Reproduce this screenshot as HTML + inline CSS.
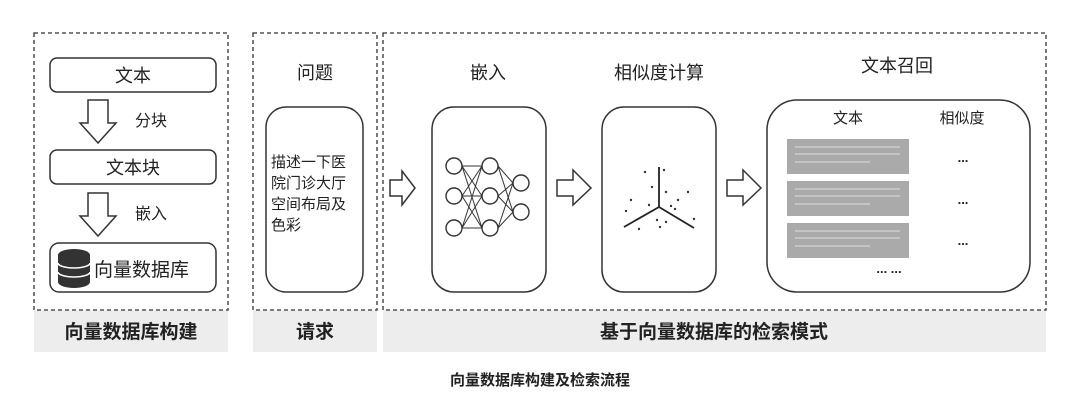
<!DOCTYPE html>
<html><head><meta charset="utf-8"><style>
body{margin:0;background:#fff;}
svg text{font-family:"Liberation Sans","Noto Sans CJK SC",sans-serif;fill:#222;}
</style></head><body>
<svg width="1080" height="400" viewBox="0 0 1080 400" xmlns="http://www.w3.org/2000/svg">
<rect width="1080" height="400" fill="#fff"/>
<rect x="34" y="310" width="194" height="42" fill="#ededed"/>
<rect x="253" y="310" width="124" height="42" fill="#ededed"/>
<rect x="383" y="310" width="663" height="42" fill="#ededed"/>
<g fill="none" stroke="#333" stroke-width="1.3" stroke-dasharray="4,3">
<rect x="34" y="33" width="194" height="277"/>
<rect x="253" y="33" width="124" height="277"/>
<rect x="383" y="33" width="663" height="277"/>
</g>
<g font-weight="bold" font-size="19" text-anchor="middle">
<text x="131" y="338">向量数据库构建</text>
<text x="315" y="338">请求</text>
<text x="714" y="338">基于向量数据库的检索模式</text>
</g>
<g fill="none" stroke="#333" stroke-width="1.5">
<rect x="50" y="58" width="166" height="34" rx="7"/>
<rect x="50" y="150" width="166" height="34" rx="7"/>
<rect x="50" y="243" width="166" height="49" rx="9"/>
<path d="M88,100 H108 V123 H116 L98,143 L80,123 H88 Z"/>
<path d="M88,193 H108 V216 H116 L98,236 L80,216 H88 Z"/>
</g>
<g font-size="18" text-anchor="middle">
<text x="133" y="82">文本</text>
<text x="133" y="174">文本块</text>
</g>
<g font-size="16"><text x="135" y="126">分块</text><text x="135" y="219">嵌入</text></g>
<text x="94" y="276" font-size="19">向量数据库</text>
<!-- database icon -->
<path d="M58,255 A16,6 0 0 1 90,255 V282 A16,6 0 0 1 58,282 Z" fill="#333"/>
<g fill="none" stroke="#fff" stroke-width="1.6">
<path d="M58,263 A16,5 0 0 0 90,263"/>
<path d="M58,272 A16,5 0 0 0 90,272"/>
</g>
<text x="315" y="79" font-size="18" text-anchor="middle">问题</text>
<rect x="266" y="107" width="97" height="185" rx="20" fill="none" stroke="#333" stroke-width="1.5"/>
<g font-size="15"><text x="271" y="167">描述一下医</text><text x="271" y="188">院门诊大厅</text><text x="271" y="209">空间布局及</text><text x="271" y="230">色彩</text></g>
<g font-size="18" text-anchor="middle">
<text x="488" y="79">嵌入</text>
<text x="659" y="79">相似度计算</text>
<text x="897" y="72">文本召回</text>
</g>
<g fill="none" stroke="#333" stroke-width="1.5">
<path d="M390,180 H402 V171 L415,188 L402,205 V196 H390 Z"/>
<path d="M557,180 H573 V170 L591,188 L573,205 V196 H557 Z"/>
<path d="M727,180 H743 V170 L761,188 L743,205 V196 H727 Z"/>
<rect x="432" y="107" width="114" height="185" rx="22"/>
<rect x="602" y="107" width="114" height="185" rx="22"/>
<rect x="767" y="100" width="263" height="192" rx="30"/>
</g>
<g stroke="#333" stroke-width="1" fill="none">
<path d="M462,166 H482 M462,228 H482 M462,196 H482 M462,166 L482,196 M462,166 L482,228 M462,196 L482,166 M462,196 L482,228 M462,228 L482,166 M462,228 L482,196"/>
<path d="M498,166 L513,183 M498,166 L513,212 M498,196 L513,183 M498,196 L513,212 M498,228 L513,183 M498,228 L513,212"/>
</g>
<g stroke="#333" stroke-width="1.4" fill="#fff">
<circle cx="454" cy="166" r="8"/><circle cx="454" cy="196" r="8"/><circle cx="454" cy="228" r="8"/>
<circle cx="490" cy="166" r="8"/><circle cx="490" cy="196" r="8"/><circle cx="490" cy="228" r="8"/>
<circle cx="521" cy="183" r="8"/><circle cx="521" cy="212" r="8"/>
</g>
<g stroke="#222" stroke-width="1.8" fill="none"><path d="M659,167 V207 L624,227 M659,207 L694,228"/></g>
<g fill="#333">
<circle cx="645" cy="172" r="1.2"/><circle cx="664" cy="170" r="1.2"/><circle cx="652" cy="187" r="1.2"/><circle cx="666" cy="192" r="1.2"/>
<circle cx="688" cy="192" r="1.2"/><circle cx="631" cy="200" r="1.2"/><circle cx="649" cy="205" r="1.2"/><circle cx="671" cy="206" r="1.2"/>
<circle cx="678" cy="200" r="1.2"/><circle cx="675" cy="209" r="1.2"/><circle cx="626" cy="211" r="1.2"/><circle cx="694" cy="219" r="1.2"/>
<circle cx="657" cy="220" r="1.2"/><circle cx="666" cy="222" r="1.2"/><circle cx="660" cy="227" r="1.2"/><circle cx="639" cy="229" r="1.2"/>
</g>
<g font-size="15" text-anchor="middle"><text x="848" y="123">文本</text><text x="962" y="123">相似度</text></g>
<g fill="#aaa"><rect x="787" y="139" width="122" height="35"/><rect x="787" y="181" width="122" height="35"/><rect x="787" y="223" width="122" height="35"/></g>
<g stroke="#ddd" stroke-width="1">
<path d="M795,147 H900 M795,154 H900 M795,162 H870"/>
<path d="M795,189 H900 M795,196 H900 M795,204 H870"/>
<path d="M795,231 H900 M795,238 H900 M795,246 H870"/>
</g>
<g font-size="13" text-anchor="middle" font-weight="bold"><text x="963" y="162">...</text><text x="963" y="204">...</text><text x="963" y="245">...</text><text x="889" y="273">... ...</text></g>
<text x="540" y="385" font-size="15" font-weight="bold" text-anchor="middle">向量数据库构建及检索流程</text>
</svg>
</body></html>
